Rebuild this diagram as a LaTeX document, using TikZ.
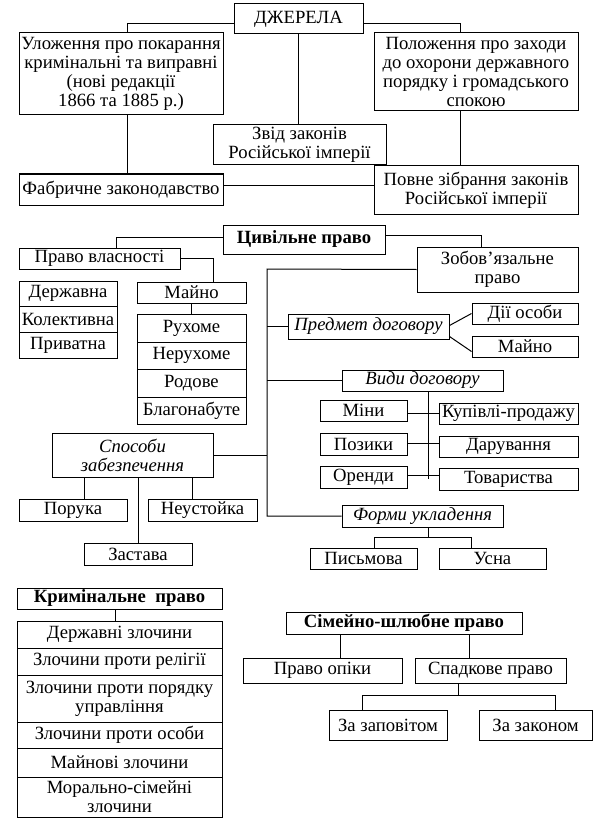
\documentclass[tikz,border=0pt]{standalone}
\usepackage{fontspec}
\setmainfont{Liberation Serif}
\usetikzlibrary{calc}
\newcommand{\boxfont}{\fontsize{14}{14.3}\selectfont}
\begin{document}
\begin{tikzpicture}[x=0.75pt,y=-0.75pt,line width=0.75pt,
  box/.style={draw,inner sep=0pt,align=center,font=\boxfont},
  sz/.style 2 args={minimum width=#1*0.75pt,minimum height=#2*0.75pt}]
\useasboundingbox (0,0) rectangle (599,831);
% Sources
\node[box,sz={129}{30}] (dzh) at (298.5,19) {ДЖЕРЕЛА};
\node[box,sz={204}{82}] (ulozh) at (121,74) {Уложення про покарання\\кримінальні та виправні\\(нові редакції\\1866 та 1885 р.)};
\node[box,sz={204}{31}] (fabr) at (121,189.5) {Фабричне законодавство};
\node[box,sz={173}{40}] (zvid) at (299.5,145) {Звід законів\\Російської імперії};
\node[box,sz={204}{78}] (polozh) at (476,72) {Положення про заходи\\до охорони державного\\порядку і громадського\\спокою};
\node[box,sz={204}{48}] (povne) at (476,190) {Повне зібрання законів\\Російської імперії};
% Sources connections
\draw ($(dzh.west)+(0,5)$) -| ($(ulozh.north)+(6,0)$);
\draw ($(dzh.east)+(0,5)$) -| ($(polozh.north)+(-16,0)$);
\draw (dzh.south) -- (dzh.south |- zvid.north);
\draw ($(ulozh.south)+(6,0)$) -- ($(fabr.north)+(6,0)$);
\draw ($(polozh.south)+(-16,0)$) -- ($(povne.north)+(-16,0)$);
\draw ($(fabr.east)+(0,-4)$) -- ($(fabr.east -| povne.west)+(0,-4)$);
% Civil law
\node[box,sz={162}{29},font=\boxfont\bfseries] (civ) at (304,239.5) {Цивільне право};
\node[box,sz={161}{21}] (pvl) at (99.5,258.5) {Право власності};
\node[box,sz={98}{25}] (derzh) at (68,293.5) {Державна};
\node[box,sz={98}{26}] (kol) at (68,319) {Колективна};
\node[box,sz={98}{26}] (pryv) at (68,345) {Приватна};
\node[box,sz={109}{21}] (mayno) at (191.5,292.5) {Майно};
\node[box,sz={109}{28}] (ruh) at (191.5,328) {Рухоме};
\node[box,sz={109}{27}] (neruh) at (191.5,355.5) {Нерухоме};
\node[box,sz={109}{28}] (rod) at (191.5,383) {Родове};
\node[box,sz={109}{27}] (blag) at (191.5,410.5) {Благонабуте};
\node[box,sz={161}{45}] (zob) at (497.5,269.5) {Зобов’язальне\\право};
\node[box,sz={161}{25},font=\boxfont\itshape] (pd) at (368.5,326.5) {Предмет договору};
\node[box,sz={106}{21}] (dii) at (525,313.5) {Дії особи};
\node[box,sz={106}{21}] (mayno2) at (525,346.5) {Майно};
\node[box,sz={161}{21},font=\boxfont\itshape] (vyd) at (422.5,380.5) {Види договору};
\node[box,sz={87}{21}] (miny) at (363.5,410.5) {Міни};
\node[box,sz={87}{22}] (poz) at (363.5,444) {Позики};
\node[box,sz={87}{22}] (orend) at (363.5,477) {Оренди};
\node[box,sz={139}{21}] (kup) at (508.5,413.5) {Купівлі-продажу};
\node[box,sz={139}{21}] (dar) at (508.5,446.5) {Дарування};
\node[box,sz={139}{22}] (tov) at (508.5,479) {Товариства};
\node[box,sz={161}{22},font=\boxfont\itshape] (form) at (422.5,516) {Форми укладення};
\node[box,sz={107}{21}] (pys) at (363.5,558.5) {Письмова};
\node[box,sz={107}{21}] (usna) at (492.5,558.5) {Усна};
\node[box,sz={161}{44},font=\boxfont\itshape] (spos) at (132.5,455) {Способи\\забезпечення};
\node[box,sz={108}{22}] (poruka) at (73,510) {Порука};
\node[box,sz={109}{22}] (neust) at (202.5,510) {Неустойка};
\node[box,sz={108}{22}] (zast) at (138,554) {Застава};
% Civil law connections
\coordinate (trunk) at (267,269);
\draw ($(civ.west)+(0,-2)$) -| ($(pvl.north)+(16.5,0)$);
\draw (pvl.east) -| ($(mayno.north)+(21.5,0)$);
\draw (mayno.south) -- (ruh.north);
\draw ($(civ.east)+(0,-4)$) -| ($(zob.north)+(-16.5,0)$);
\draw (zob.west) -- (trunk) -- (trunk |- form.west) -- (form.west);
\draw (trunk |- pd.west) -- (pd.west);
\draw (trunk |- vyd.west) -- (vyd.west);
\draw (trunk |- spos.east) -- (spos.east);
\draw ($(pd.east)+(0,-1)$) -- (dii.west);
\draw ($(pd.east)+(0,10)$) -- ($(mayno2.west)+(0,5)$);
\draw ($(vyd.south)+(5.5,0)$) coordinate (vd) -- (vd |- tov.west);
\draw ($(miny.east)+(0,2.5)$) -- ($(kup.west)+(0,-0.5)$);
\draw ($(poz.east)+(0,-1)$) -- ($(dar.west)+(0,-3.5)$);
\draw ($(orend.east)+(0,-2)$) -- ($(tov.west)+(0,-4)$);
\draw ($(form.south)+(5.5,0)$) -- ++(0,10) coordinate (fm);
\draw ($(pys.north)+(10.5,0)$) |- (fm) -| ($(usna.north)+(-21.5,0)$);
\draw ($(spos.south)+(-48.5,0)$) -- ($(poruka.north)+(11,0)$);
\draw ($(spos.south)+(59.5,0)$) -- ($(neust.north)+(-10.5,0)$);
\draw ($(spos.south)+(5.5,0)$) -- ($(zast.north)+(0,0)$);
% Criminal law
\node[box,sz={205}{21},font=\boxfont\bfseries] (krym) at (119.5,598.5) {Кримінальне\ \ право};
\node[box,sz={205}{27}] (kr1) at (119.5,634.5) {Державні злочини};
\node[box,sz={205}{27}] (kr2) at (119.5,661.5) {Злочини проти релігії};
\node[box,sz={205}{47}] (kr3) at (119.5,698.5) {Злочини проти порядку\\управління};
\node[box,sz={205}{26}] (kr4) at (119.5,735) {Злочини проти особи};
\node[box,sz={205}{29}] (kr5) at (119.5,762.5) {Майнові злочини};
\node[box,sz={205}{40}] (kr6) at (119.5,797) {Морально-сімейні\\злочини};
\draw ($(krym.south)+(-4.5,0)$) -- ($(kr1.north)+(-4.5,0)$);
% Family law
\node[box,sz={236}{22},font=\boxfont\bfseries] (sim) at (404,623) {Сімейно-шлюбне право};
\node[box,sz={159}{25}] (opik) at (322.5,670.5) {Право опіки};
\node[box,sz={151}{25}] (spad) at (490.5,670.5) {Спадкове право};
\node[box,sz={118}{30}] (zapov) at (388,725) {За заповітом};
\node[box,sz={113}{30}] (zakon) at (535.5,725) {За законом};
\draw ($(sim.south)+(-64,0)$) -- ($(opik.north)+(17.5,0)$);
\draw ($(sim.south)+(65,0)$) -- ($(spad.north)+(-21.5,0)$);
\draw ($(spad.south)+(-32.5,0)$) -- ++(0,12) coordinate (sp);
\draw ($(zapov.north)+(-26,0)$) |- (sp) -| ($(zakon.north)+(19.5,0)$);
\end{tikzpicture}
\end{document}
